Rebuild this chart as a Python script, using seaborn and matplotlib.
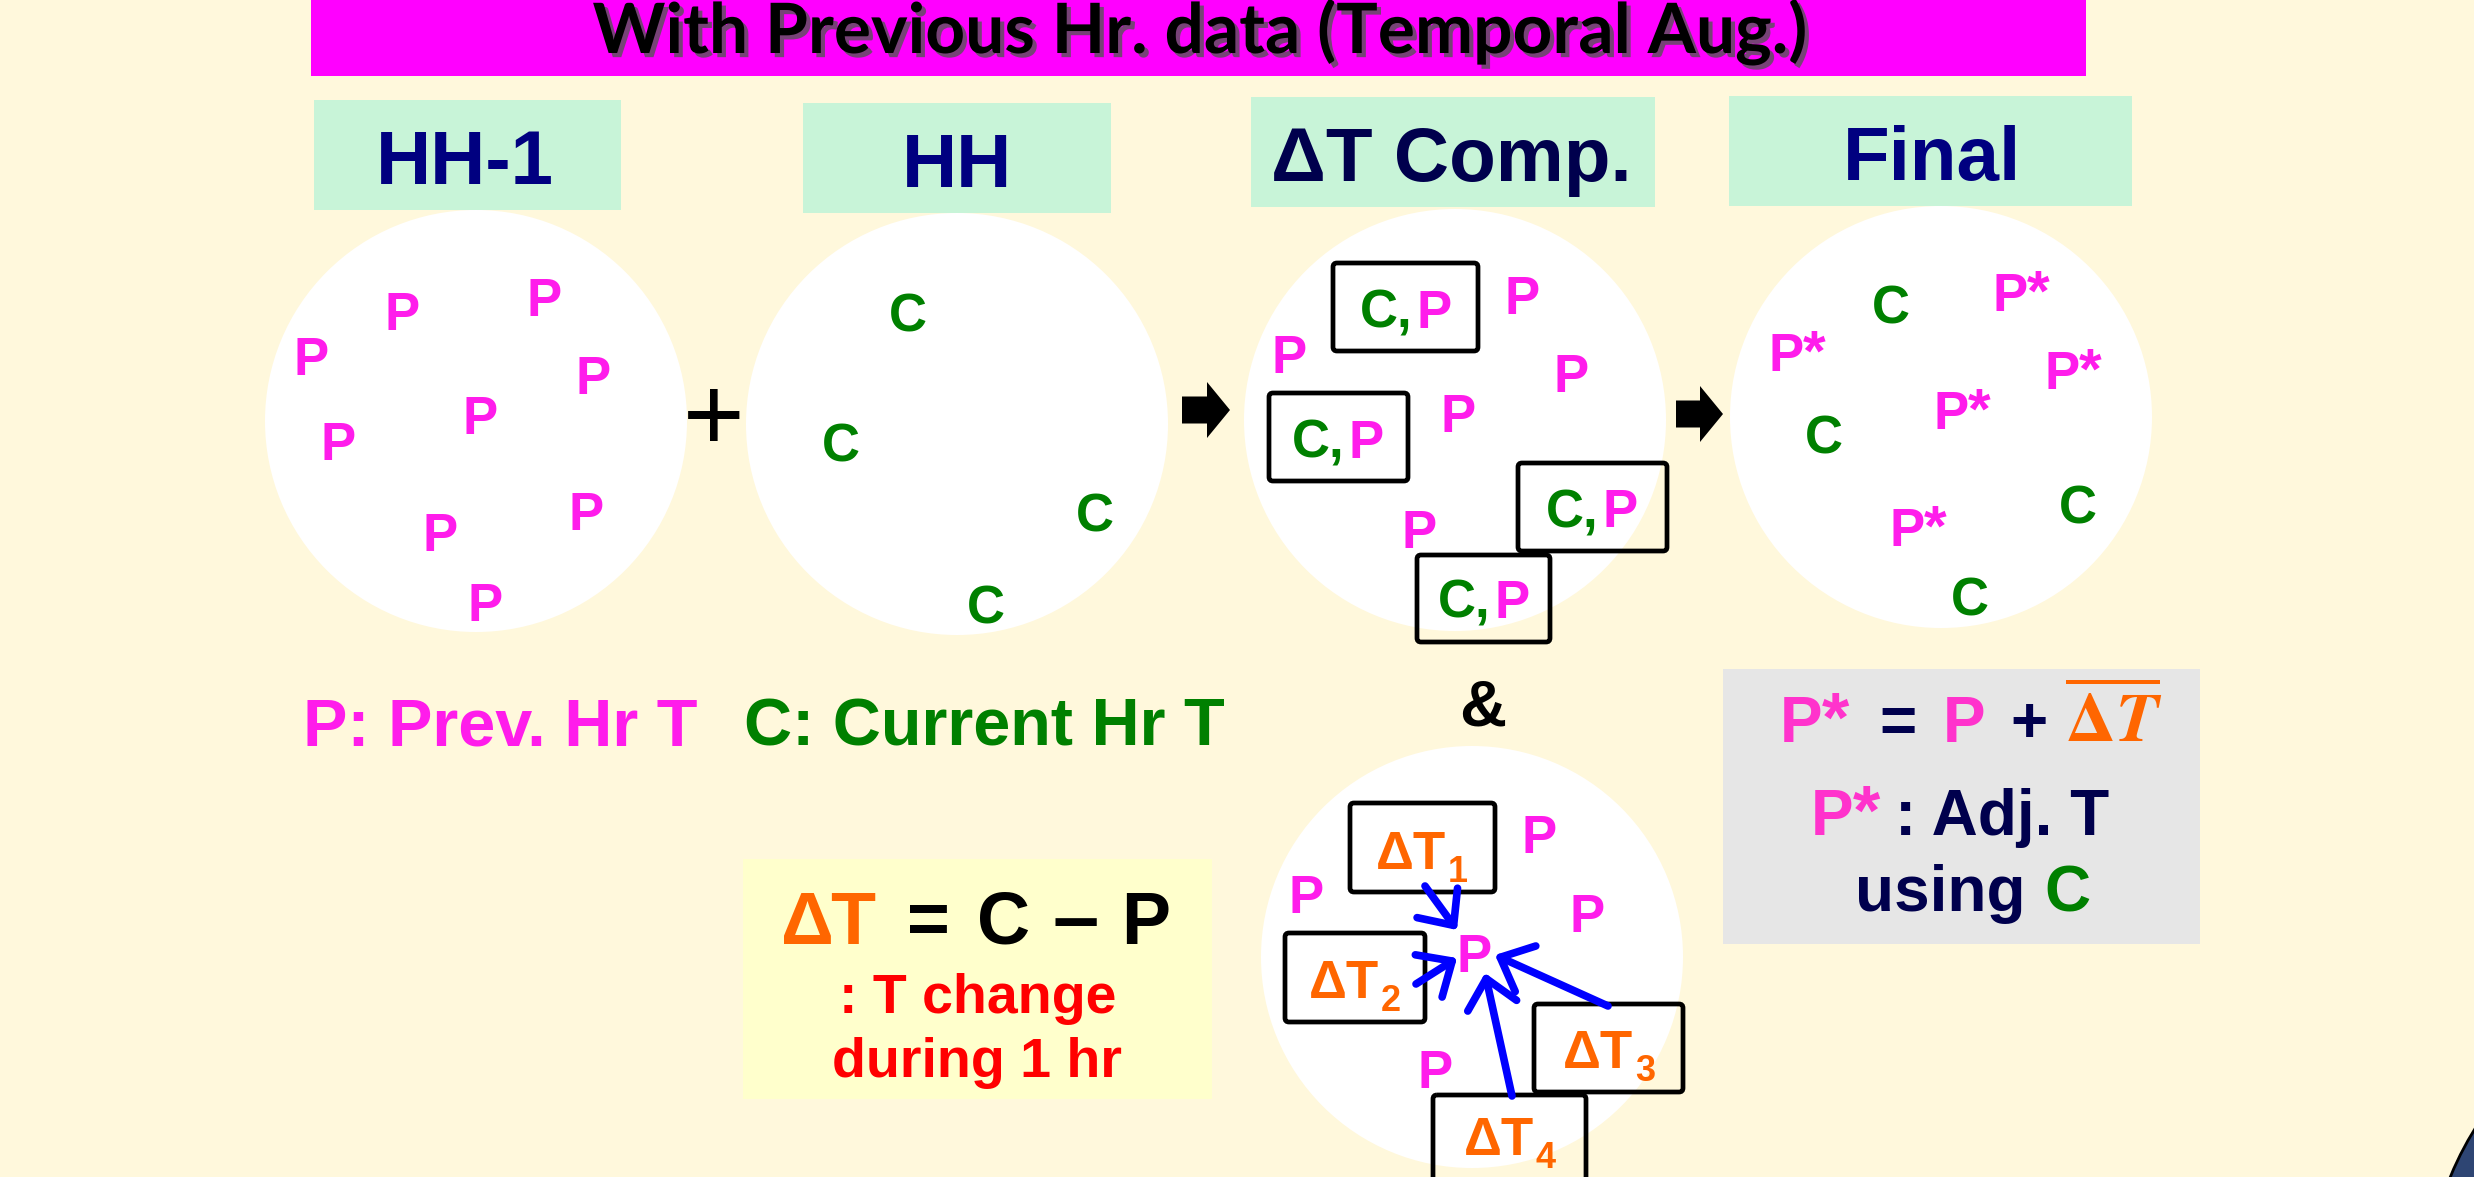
import numpy as np
import pandas as pd
import matplotlib.pyplot as plt
import seaborn as sns
import matplotlib.patheffects as pe
from matplotlib.patches import Circle, Rectangle, FancyBboxPatch, FancyArrow, FancyArrowPatch

sns.set_theme(style='white')
plt.rcParams['font.family'] = ['Liberation Sans', 'DejaVu Sans']
plt.rcParams['mathtext.fontset'] = 'stix'

W, H = 2474, 1177

# colours
cream = '#FFF8DC'
magenta = '#FF1CEB'
green = '#008000'
navy = '#000080'
darknavy = '#00004D'
orange = '#FF6600'

# panel headers
headers = ['HH-1', 'HH', 'ΔT Comp.', 'Final']
header_boxes = [(314, 100, 621, 210), (803, 103, 1111, 213),
                (1251, 97, 1655, 207), (1729, 96, 2132, 206)]
header_pos = [(465, 184), (957, 187), (1451, 181), (1932, 180)]
header_colors = [navy, navy, darknavy, navy]

# white discs (centre x, centre y)
panels = [(476, 421), (957, 424), (1455, 420), (1941, 417), (1472, 957)]
panel_r = 211

# letters: (x, baseline y)
prev_P = [(402, 330), (544, 316), (311, 375), (593, 394), (480, 434),
          (338, 460), (586, 530), (440, 551), (485, 621)]
curr_C = [(908, 332), (841, 462), (1095, 532), (986, 623)]
comp_P = [(1522, 314), (1289, 373), (1571, 392), (1458, 432), (1419, 548)]
comp_boxes = [(1333, 263, 1478, 351), (1269, 393, 1408, 481),
              (1518, 463, 1667, 551), (1417, 555, 1550, 642)]
comp_labels = [(1406, 328), (1338, 458), (1592, 527), (1484, 618)]
final_P = [(2016, 311), (1792, 371), (2068, 389), (1957, 429), (1913, 546)]
final_C = [(1891, 324), (1824, 454), (2078, 524), (1970, 615)]

# delta-T neighbourhood panel
near_P = [(1539, 853), (1306, 913), (1587, 932), (1435, 1088)]
centre_P = (1474, 972)
dt_boxes = [(1350, 803, 1495, 892), (1285, 933, 1425, 1022),
            (1534, 1004, 1683, 1092), (1433, 1095, 1586, 1200)]
dt_labels = [(1411, 869), (1344, 998), (1598, 1068), (1499, 1155)]
dt_subs = ['1', '2', '3', '4']
dt_arrows = [((1425, 886), (1457, 930)), ((1416, 984), (1457, 958)),
             ((1608, 1006), (1495, 955)), ((1512, 1096), (1485, 973))]

flow_arrows = [(1182, 1230, 410), (1676, 1723, 414)]

fig = plt.figure(figsize=(W / 100, H / 100), dpi=100)
fig.patch.set_facecolor(cream)
ax = fig.add_axes([0, 0, 1, 1])
ax.set_xlim(0, W)
ax.set_ylim(H, 0)
ax.axis('off')
ax.set_facecolor(cream)


def txt(x, y, s, color, size, weight='bold', ha='center', **kw):
    return ax.text(x, y, s, color=color, fontsize=size, fontweight=weight,
                   ha=ha, va='baseline', **kw)


def box(x0, y0, x1, y1, lw=3.4):
    ax.add_patch(FancyBboxPatch((x0, y0), x1 - x0, y1 - y0,
                                boxstyle='round,pad=0,rounding_size=4',
                                fc='none', ec='black', lw=lw, zorder=3))


def pstar(x, y, color, size):
    # P and its asterisk drawn a little apart, as in the slide
    em = size * 100 / 72
    txt(x - 0.12 * em, y, 'P', color, size, zorder=4)
    txt(x + 0.42 * em, y, '*', color, size * 1.1, zorder=4)


# banner
ax.add_patch(Rectangle((311, 0), 2086 - 311, 76, fc='#FF00FF', ec='none'))
txt(1201, 53, 'With Previous Hr. data (Temporal Aug.)', 'black', 50,
    family=['Lato', 'DejaVu Sans'],
    path_effects=[pe.withSimplePatchShadow(offset=(3, -3), shadow_rgbFace='#555555', alpha=0.8)])

# headers
for (x0, y0, x1, y1), (hx, hy), s, c in zip(header_boxes, header_pos, headers, header_colors):
    ax.add_patch(Rectangle((x0, y0), x1 - x0, y1 - y0, fc='#C8F4D8', ec='none'))
    txt(hx, hy, s, c, 55)

# discs
for cx, cy in panels:
    ax.add_patch(Circle((cx, cy), panel_r, fc='white', ec='none', zorder=1))

# dark corner shape
ax.add_patch(Circle((2750, 1300), 324, fc='#2E4573', ec='black', lw=2, zorder=1))

for x, y in prev_P:
    txt(x, y, 'P', magenta, 38, zorder=4)
for x, y in curr_C:
    txt(x, y, 'C', green, 38, zorder=4)

txt(714, 450, '+', 'black', 76, weight='normal')

for x0, x1, y in flow_arrows:
    ax.add_patch(FancyArrow(x0, y, x1 - x0, 0, width=27, head_width=56, head_length=23,
                            length_includes_head=True, fc='black', ec='none'))

# delta-T comparison panel
for x, y in comp_P:
    txt(x, y, 'P', magenta, 38, zorder=4)
for b in comp_boxes:
    box(*b)
for x, y in comp_labels:
    txt(x + 6, y, 'C,', green, 38, ha='right', zorder=4)
    txt(x + 11, y, 'P', magenta, 38, ha='left', zorder=4)

# final panel
for x, y in final_P:
    pstar(x, y, magenta, 38)
for x, y in final_C:
    txt(x, y, 'C', green, 38, zorder=4)

# legend line
txt(500, 745, 'P: Prev. Hr T', magenta, 48)
txt(984, 745, 'C: Current Hr T', green, 48)

txt(1483, 726, '&', 'black', 47)

# neighbourhood panel
for x, y in near_P:
    txt(x, y, 'P', magenta, 38, zorder=4)
txt(centre_P[0], centre_P[1], 'P', magenta, 38, zorder=4)
for b in dt_boxes:
    box(*b)
for (x, y), s in zip(dt_labels, dt_subs):
    txt(x, y, 'ΔT', orange, 38, zorder=4)
    txt(x + 47, y + 13, s, orange, 26, zorder=4)
for a, b in dt_arrows:
    ax.add_patch(FancyArrowPatch(a, b, arrowstyle='->,head_length=1.0,head_width=0.9',
                                 mutation_scale=20, lw=5.5, color='#0000FF',
                                 capstyle='round', joinstyle='round',
                                 shrinkA=0, shrinkB=0, zorder=5))

# formula box (left)
ax.add_patch(Rectangle((743, 859), 1212 - 743, 1099 - 859, fc='#FFFFCC', ec='none'))
txt(807, 944, 'Δ', orange, 53)
txt(853, 944, 'T', orange, 53)
txt(928, 944, '=', 'black', 53)
txt(1004, 944, 'C', 'black', 53)
txt(1076, 944, '–', 'black', 60)
txt(1146, 944, 'P', 'black', 53)
txt(978, 1013, ': T change', '#FF0000', 40)
txt(977, 1077, 'during 1 hr', '#FF0000', 40)

# formula box (right)
ax.add_patch(Rectangle((1723, 669), 2200 - 1723, 944 - 669, fc='#E6E6E6', ec='none'))
pink = '#FF33CC'
pstar(1809, 742, pink, 46)
txt(1898, 742, '=', darknavy, 46)
txt(1964, 742, 'P', pink, 46)
txt(2029, 742, '+', darknavy, 46)
txt(2114, 742, r'$\overline{\mathbf{\Delta}\mathbfit{T}}$', orange, 50)
pstar(1840, 835, pink, 46)
txt(1895, 835, ': Adj. T', darknavy, 46, ha='left')
txt(1940, 911, 'using', darknavy, 46)
txt(2067, 911, 'C', green, 46)

fig.savefig('out.png', dpi=100, facecolor=cream)
